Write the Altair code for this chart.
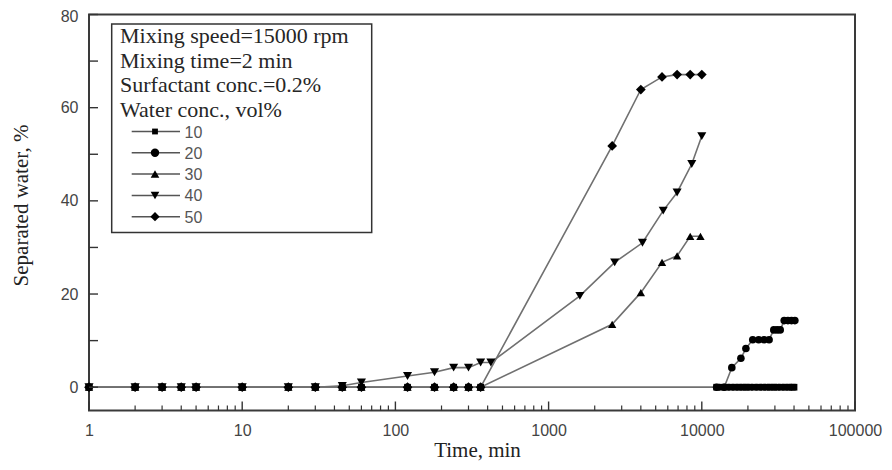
import altair as alt
import pandas as pd

# ---------------- data ----------------
series_labels = ["10", "20", "30", "40", "50"]
series_shapes = ["square", "circle", "triangle-up", "triangle-down", "diamond"]
series_sizes = [45, 95, 100, 100, 115]

t_10 = [1, 2, 3, 4, 5, 10, 20, 30, 45, 60, 120, 180, 240, 300, 360,
        12500, 13500, 14500, 15500, 16500, 17500, 18500, 19500, 20500, 22000,
        23500, 25000, 26500, 28000, 29500, 31000, 33000, 35000, 37000, 39000, 40000]
v_10 = [0, 0, 0, 0, 0, 0, 0, 0, 0, 0, 0, 0, 0, 0, 0,
        0, 0, 0, 0, 0, 0, 0, 0, 0, 0,
        0, 0, 0, 0, 0, 0, 0, 0, 0, 0, 0]

t_20 = [1, 2, 3, 4, 5, 10, 20, 30, 45, 60, 120, 180, 240, 300, 360,
        12500, 14000, 15700, 18000, 19400, 21500, 23500, 25500, 27500,
        29500, 31000, 32500, 34500, 36500, 38500, 40500]
v_20 = [0, 0, 0, 0, 0, 0, 0, 0, 0, 0, 0, 0, 0, 0, 0,
        0, 0, 4.2, 6.2, 8.3, 10.2, 10.2, 10.2, 10.2,
        12.3, 12.3, 12.3, 14.3, 14.3, 14.3, 14.3]

t_30 = [1, 2, 3, 4, 5, 10, 20, 30, 45, 60, 120, 180, 240, 300, 360,
        2600, 4000, 5500, 6900, 8400, 9800]
v_30 = [0, 0, 0, 0, 0, 0, 0, 0, 0, 0, 0, 0, 0, 0, 0,
        13.5, 20.3, 26.8, 28.2, 32.4, 32.4]

t_40 = [1, 2, 3, 4, 5, 10, 20, 30, 45, 60, 120, 180, 240, 300, 360, 420,
        1600, 2700, 4100, 5600, 6900, 8600, 10000]
v_40 = [0, 0, 0, 0, 0, 0, 0, 0, 0.3, 1.0, 2.4, 3.2, 4.2, 4.2, 5.3, 5.3,
        19.6, 26.8, 31.0, 37.9, 41.8, 47.9, 53.9]

t_50 = [1, 2, 3, 4, 5, 10, 20, 30, 45, 60, 120, 180, 240, 300, 360,
        2600, 4000, 5500, 6900, 8400, 10000]
v_50 = [0, 0, 0, 0, 0, 0, 0, 0, 0, 0, 0, 0, 0, 0, 0,
        51.8, 63.9, 66.6, 67.1, 67.1, 67.1]

x_tick_labels = [1, 10, 100, 1000, 10000, 100000]
y_tick_labels = [0, 20, 40, 60, 80]
y_minor = [10, 30, 50, 70]
x_minor = [m * d for d in [1, 10, 100, 1000, 10000] for m in range(2, 10)]

info_lines = ["Mixing speed=15000 rpm", "Mixing time=2 min",
              "Surfactant conc.=0.2%", "Water conc., vol%"]

# ---------------- build table ----------------
rows = []
for lab, ts, vs in zip(series_labels, [t_10, t_20, t_30, t_40, t_50],
                       [v_10, v_20, v_30, v_40, v_50]):
    for t, v in zip(ts, vs):
        rows.append({"t": t, "v": v, "series": lab})
df = pd.DataFrame(rows)

W, H = 766, 396
LINE_GRAY = "#707070"

x_enc = alt.X("t:Q",
              scale=alt.Scale(type="log", domain=[1, 100000], nice=False),
              axis=alt.Axis(values=x_tick_labels, format="d", ticks=False, tickSize=0,
                            domain=False, grid=False, labelPadding=12,
                            labelFont="Liberation Sans", labelFontSize=16,
                            labelColor="#444", labelFlush=False,
                            title="Time, min", titleFont="Liberation Serif",
                            titleFontSize=21, titleFontWeight="normal",
                            titleColor="#222", titleX=388, titleY=45.5,
                            titleBaseline="alphabetic", titleAlign="center"))
y_enc = alt.Y("v:Q",
              scale=alt.Scale(domain=[-5, 80], nice=False, zero=False),
              axis=alt.Axis(values=y_tick_labels, ticks=False, tickSize=0,
                            domain=False, grid=False, labelPadding=11,
                            labelFont="Liberation Sans", labelFontSize=16,
                            labelColor="#444",
                            labelOffset={"condition": {"test": "datum.value == 80", "value": 1.5},
                                         "value": 0},
                            title="Separated water, %", titleFont="Liberation Serif",
                            titleFontSize=21, titleFontWeight="normal",
                            titleColor="#222", titleX=-68, titleY=190.5,
                            titleBaseline="middle", titleAlign="center"))

lines = alt.Chart(df).mark_line(color=LINE_GRAY, strokeWidth=1.6).encode(
    x=x_enc, y=y_enc, detail="series:N", order="t:Q")

points = alt.Chart(df).mark_point(filled=True, color="black", opacity=1).encode(
    x="t:Q", y="v:Q",
    shape=alt.Shape("series:N",
                    scale=alt.Scale(domain=series_labels, range=series_shapes),
                    legend=None),
    size=alt.Size("series:N",
                  scale=alt.Scale(domain=series_labels, range=series_sizes),
                  legend=None))

# inward ticks
ytick_df = pd.DataFrame({"v": y_tick_labels + y_minor})
yticks = alt.Chart(ytick_df).mark_rule(color="#333", strokeWidth=1.4).encode(
    y="v:Q", x=alt.value(0), x2=alt.value(9))

xmaj_df = pd.DataFrame({"t": x_tick_labels})
xmaj = alt.Chart(xmaj_df).mark_rule(color="#333", strokeWidth=1.4).encode(
    x="t:Q", y=alt.value(H), y2=alt.value(H - 9))
xmin_df = pd.DataFrame({"t": x_minor})
xmin = alt.Chart(xmin_df).mark_rule(color="#333", strokeWidth=1.2).encode(
    x="t:Q", y=alt.value(H), y2=alt.value(H - 5))

# in-plot legend box
one = pd.DataFrame({"a": [0]})
box = alt.Chart(one).mark_rect(fill="white", stroke="#333", strokeWidth=1.5).encode(
    x=alt.value(22.7), x2=alt.value(282.7), y=alt.value(9.5), y2=alt.value(218))

layers = [lines, points, yticks, xmaj, xmin, box]

info_y = [28.5, 53.5, 77.5, 102.5]
for txt, yy in zip(info_lines, info_y):
    layers.append(alt.Chart(one).mark_text(
        text=txt, align="left", baseline="alphabetic", font="Liberation Serif",
        fontSize=22, color="#262626").encode(x=alt.value(31), y=alt.value(yy)))

leg_y = [117, 138.3, 159.6, 180.9, 202.2]
for lab, shp, sz, yy in zip(series_labels, series_shapes, series_sizes, leg_y):
    layers.append(alt.Chart(one).mark_rule(color="#555", strokeWidth=1.5).encode(
        x=alt.value(42.7), x2=alt.value(91), y=alt.value(yy)))
    layers.append(alt.Chart(one).mark_point(filled=True, color="black", opacity=1,
                                            size=sz * 0.75, shape=shp).encode(
        x=alt.value(66), y=alt.value(yy)))
    layers.append(alt.Chart(one).mark_text(
        text=lab, align="left", baseline="middle", font="Liberation Sans",
        fontSize=16, color="#555").encode(x=alt.value(95.5), y=alt.value(yy + 1)))

chart = alt.layer(*layers).properties(
    width=W, height=H,
    autosize=alt.AutoSizeParams(type="none"),
    padding={"left": 81, "top": 6.5, "right": 28, "bottom": 51.5},
).configure_view(stroke="#3a3a3a", strokeWidth=2)

chart.save("out.html", embed_options={"renderer": "svg", "actions": False})
